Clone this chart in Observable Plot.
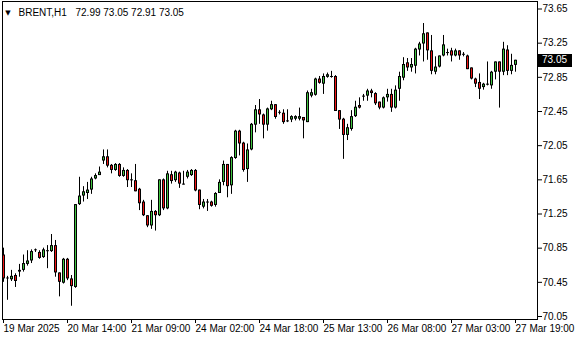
<!DOCTYPE html>
<html><head><meta charset="utf-8">
<script src="https://cdn.jsdelivr.net/npm/d3@7"></script>
<script src="https://cdn.jsdelivr.net/npm/@observablehq/plot@0.6"></script>
<style>body{margin:0;background:#fff} #chart{width:580px;height:340px}</style>
</head><body><div id="chart"></div>
<script>
const symbol = "BRENT,H1";
const opens = [70.77,70.49,70.48,70.53,70.57,70.59,70.66,70.70,70.82,70.80,70.74,70.82,70.81,70.88,70.56,70.44,70.72,70.49,70.39,71.36,
71.46,71.49,71.53,71.66,71.70,71.87,71.92,71.82,71.76,71.83,71.69,71.76,71.65,71.64,71.54,71.39,71.23,71.11,71.28,71.23,
71.65,71.31,71.71,71.64,71.73,71.60,71.68,71.70,71.76,71.53,71.33,71.39,71.39,71.35,71.49,71.62,71.83,71.58,71.90,72.22,
72.08,71.77,72.00,72.29,72.47,72.41,72.29,72.47,72.53,72.43,72.43,72.34,72.35,72.36,72.36,72.38,72.32,72.63,72.64,72.83,
72.77,72.85,72.86,72.86,72.46,72.36,72.17,72.24,72.39,72.52,72.63,72.63,72.69,72.66,72.56,72.49,72.61,72.65,72.49,72.71,
72.84,73.02,72.96,72.98,73.17,73.24,73.37,73.16,72.91,72.97,73.10,73.14,73.16,73.10,73.16,73.12,73.10,72.96,72.83,72.79,
72.73,72.77,72.75,72.91,73.03,72.91,73.17,72.92,72.99];
const highs = [70.85,70.52,70.59,70.55,70.66,70.77,70.82,70.83,70.84,70.82,70.85,70.88,71.01,70.94,70.56,70.73,70.73,70.53,71.36,71.68,
71.57,71.62,71.68,71.72,71.80,72.00,72.00,71.83,71.84,71.84,71.79,71.77,71.72,71.83,71.55,71.41,71.23,71.41,71.29,71.65,
71.66,71.75,71.75,71.75,71.74,71.75,71.76,71.77,71.77,71.53,71.42,71.42,71.40,71.50,71.65,71.87,71.83,71.92,72.23,72.23,
72.09,72.07,72.31,72.52,72.59,72.42,72.49,72.57,72.53,72.46,72.47,72.47,72.40,72.40,72.49,72.38,72.69,72.71,72.84,72.86,
72.89,72.90,72.92,72.87,72.46,72.37,72.30,72.46,72.57,72.61,72.65,72.71,72.71,72.67,72.56,72.62,72.71,72.71,72.75,72.91,
73.08,73.07,73.07,73.19,73.26,73.48,73.37,73.34,73.09,73.10,73.34,73.18,73.19,73.18,73.16,73.14,73.11,72.96,72.84,72.89,
72.78,73.03,72.92,73.03,73.03,73.26,73.22,73.12,73.05];
const lows = [70.45,70.24,70.46,70.39,70.51,70.57,70.64,70.67,70.80,70.72,70.73,70.61,70.80,70.51,70.28,70.43,70.47,70.17,70.38,71.35,
71.39,71.42,71.48,71.65,71.70,71.83,71.79,71.72,71.75,71.68,71.68,71.56,71.56,71.51,71.29,71.22,71.09,71.07,71.05,71.22,
71.29,71.30,71.60,71.62,71.55,71.59,71.66,71.69,71.51,71.30,71.31,71.28,71.33,71.33,71.49,71.58,71.44,71.48,71.89,71.93,
71.74,71.62,71.99,72.20,72.30,72.13,72.22,72.46,72.36,72.41,72.30,72.32,72.32,72.34,72.34,72.13,72.32,72.61,72.63,72.77,
72.65,72.84,72.84,72.45,72.24,71.89,72.11,72.22,72.38,72.48,72.57,72.57,72.61,72.52,72.47,72.48,72.56,72.44,72.48,72.57,
72.81,72.92,72.91,72.89,73.10,73.03,73.05,72.88,72.88,72.96,73.09,73.10,73.03,73.09,73.05,73.09,72.94,72.82,72.73,72.59,
72.70,72.75,72.71,72.82,72.49,72.87,72.87,72.88,72.91];
const closes = [70.49,70.50,70.52,70.46,70.59,70.67,70.70,70.81,70.83,70.73,70.83,70.82,70.88,70.56,70.45,70.72,70.49,70.40,71.36,71.46,
71.51,71.53,71.66,71.70,71.74,71.92,71.81,71.76,71.83,71.69,71.76,71.64,71.65,71.51,71.37,71.23,71.11,71.28,71.23,71.65,
71.31,71.72,71.63,71.74,71.60,71.60,71.74,71.76,71.52,71.35,71.39,71.39,71.34,71.49,71.62,71.83,71.57,71.91,72.22,72.07,
71.76,72.00,72.30,72.47,72.41,72.29,72.48,72.53,72.38,72.44,72.32,72.34,72.39,72.39,72.39,72.34,72.67,72.67,72.83,72.78,
72.86,72.88,72.86,72.45,72.35,72.17,72.26,72.39,72.50,72.49,72.63,72.69,72.66,72.54,72.49,72.61,72.65,72.49,72.70,72.86,
73.00,72.96,73.00,73.18,73.24,73.36,73.16,72.92,72.97,73.10,73.23,73.14,73.10,73.16,73.10,73.12,72.94,72.83,72.77,72.71,
72.77,72.77,72.91,73.03,72.91,73.18,72.92,72.99,73.05];
const tickIdx = [0,16,32,48,64,80,96,112,128];
const tickLabels = ["19 Mar 2025","20 Mar 14:00","21 Mar 09:00","24 Mar 02:00","24 Mar 18:00","25 Mar 13:00","26 Mar 08:00","27 Mar 03:00","27 Mar 19:00"];
const priceTicks = [73.65,73.25,72.85,72.45,72.05,71.65,71.25,70.85,70.45,70.05];

const green = "#3fc43f", red = "#f01414";
const bars = opens.map((o,i)=>({i, o, h:highs[i], l:lows[i], c:closes[i]}));
const dojis = bars.filter(d=>Math.abs(d.o-d.c)<0.004);
const last = bars[bars.length-1];
const ohlcText = [last.o,last.h,last.l,last.c].map(v=>v.toFixed(2)).join(" ");
const font = "Liberation Sans, Arial, sans-serif";

function priceBox(index, scales, values, dimensions) {
  const y = scales.y(last.c);
  const x0 = dimensions.width - dimensions.marginRight;
  const g = d3.create("svg:g");
  g.append("rect").attr("x", x0 + 1).attr("y", Math.round(y) - 6).attr("width", 34).attr("height", 13).attr("fill", "black");
  g.append("text").attr("x", x0 + 5).attr("y", y).attr("dy", "0.34em").attr("fill", "white")
    .attr("text-anchor", "start").attr("font-size", 10).attr("font-family", font).text(last.c.toFixed(2));
  return g.node();
}

// body spans one pixel column left and right of the wick column (wick rules are drawn at x + 0.5)
const bodyL = d => d.i - 0.25, bodyR = d => d.i + 0.5;

const chart = Plot.plot({
  width: 580, height: 340,
  marginLeft: 2, marginRight: 43, marginTop: 1, marginBottom: 21,
  style: {fontFamily: font, fontSize: "10px", background: "white", color: "black", overflow: "visible"},
  x: {type: "linear", domain: [0, 128], range: [3, 515], axis: null},
  y: {domain: [70.05, 73.65], range: [316, 8.5], axis: null},
  color: {type: "identity"},
  marks: [
    Plot.frame({stroke: "black"}),
    Plot.ruleX(bars, {x: "i", y1: "l", y2: "h", stroke: "black", strokeWidth: 1}),
    Plot.rect(bars, {x1: bodyL, x2: bodyR, y1: "o", y2: "c", fill: "black"}),
    Plot.rect(bars, {x1: bodyL, x2: bodyR, y1: "o", y2: "c", inset: 1, fill: d => d.c >= d.o ? green : red}),
    Plot.ruleY(dojis, {x1: bodyL, x2: bodyR, y: "c", stroke: "black"}),
    Plot.axisY(priceTicks, {anchor: "right", tickSize: 4, tickPadding: 1, tickFormat: d => d.toFixed(2), label: null, fill: "black"}),
    Plot.axisX(tickIdx, {anchor: "bottom", tickSize: 4, tickPadding: 1, textAnchor: "start", label: null, fill: "black",
      tickFormat: i => tickLabels[tickIdx.indexOf(i)]}),
    Plot.text(["\u25BC"], {frameAnchor: "top-left", text: d => d, dx: 5.5, dy: 13.5, lineAnchor: "bottom",
      textAnchor: "middle", fontFamily: "DejaVu Sans", fontSize: 7, fill: "black"}),
    Plot.text([symbol], {frameAnchor: "top-left", text: d => d, dx: 16, dy: 14, lineAnchor: "bottom",
      textAnchor: "start", fontSize: 10, fill: "black"}),
    Plot.text([ohlcText], {frameAnchor: "top-left", text: d => d, dx: 73, dy: 14, lineAnchor: "bottom",
      textAnchor: "start", fontSize: 10, fill: "black"}),
    priceBox
  ]
});
document.getElementById("chart").appendChild(chart);
</script>
</body></html>
